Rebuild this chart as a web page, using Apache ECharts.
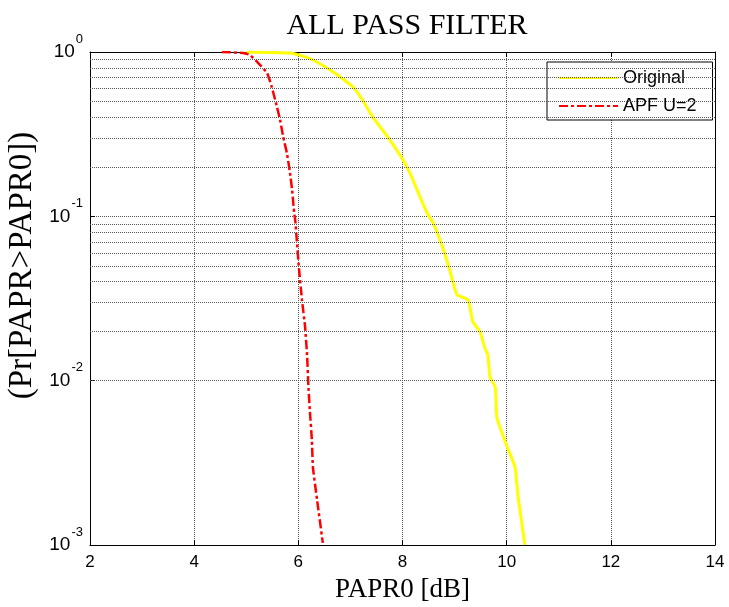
<!DOCTYPE html>
<html>
<head>
<meta charset="utf-8">
<script src="https://cdn.jsdelivr.net/npm/echarts@6/dist/echarts.min.js"></script>
<style>
  html, body { margin: 0; padding: 0; background: #fff; }
  #chart { width: 729px; height: 607px; }
</style>
</head>
<body>
<div id="chart"></div>
<script>
// PAPR0 [dB] and CCDF values
const originalX = [5.0, 5.84, 6.05, 6.28, 6.67, 7.05, 7.25, 7.43, 7.76, 8.01, 8.14, 8.28, 8.47, 8.59, 8.72, 8.85, 8.97, 9.05, 9.26, 9.35, 9.49, 9.58, 9.64, 9.68, 9.78, 9.81, 9.87, 10.01, 10.16, 10.22, 10.35]
const originalY = [1.0, 0.986, 0.95, 0.894, 0.756, 0.612, 0.50, 0.402, 0.291, 0.220, 0.184, 0.145, 0.105, 0.091, 0.0718, 0.0542, 0.0398, 0.0332, 0.031, 0.0228, 0.0198, 0.0158, 0.0143, 0.0105, 0.00915, 0.0060, 0.00522, 0.00395, 0.00298, 0.00196, 0.001]

const apfX = [4.53, 4.94, 5.07, 5.23, 5.40, 5.49, 5.59, 5.65, 5.71, 5.78, 5.84, 5.88, 5.92, 5.94, 5.97, 6.01, 6.07, 6.13, 6.17, 6.19, 6.22, 6.26, 6.28, 6.36, 6.47]
const apfY = [1.0, 0.986, 0.959, 0.857, 0.745, 0.612, 0.463, 0.386, 0.304, 0.243, 0.184, 0.145, 0.105, 0.095, 0.0718, 0.0492, 0.031, 0.0212, 0.0139, 0.0097, 0.00663, 0.00435, 0.00298, 0.00188, 0.00103]

// minor log grid lines (2..9 of each decade)
const minorGrid = [
  0.002, 0.003, 0.004, 0.005, 0.006, 0.007, 0.008, 0.009,
  0.02, 0.03, 0.04, 0.05, 0.06, 0.07, 0.08, 0.09,
  0.2, 0.3, 0.4, 0.5, 0.6, 0.7, 0.8, 0.9,
]

const chart = echarts.init(document.getElementById('chart'), null, { renderer: 'canvas' })

const gridLine = { type: 'dotted', color: '#555', width: 1 }
const axisLine = { lineStyle: { color: '#000', width: 1 } }
const tickStyle = { inside: true, length: 5, lineStyle: { color: '#000' } }

function pairs(xs, ys) {
  return xs.map((x, i) => [x, ys[i]])
}

chart.setOption({
  animation: false,
  backgroundColor: '#fff',
  title: {
    text: 'ALL PASS FILTER',
    left: 402,
    textAlign: 'center',
    top: 6,
    textStyle: { fontFamily: 'Liberation Serif', fontSize: 30, fontWeight: 'normal', color: '#000' },
  },
  legend: {
    orient: 'vertical',
    left: 547,
    top: 62,
    padding: [7, 16, 5, 11],
    itemWidth: 59,
    itemHeight: 18,
    itemGap: 10,
    borderColor: '#000',
    borderWidth: 1,
    backgroundColor: '#fff',
    borderRadius: 0,
    itemStyle: { opacity: 0 },
    textStyle: { fontFamily: 'Liberation Sans', fontSize: 18, color: '#000' },
    data: ['Original', 'APF U=2'],
  },
  grid: { left: 90, right: 14, top: 52, bottom: 62, outerBoundsMode: 'none' },
  xAxis: [
    {
      type: 'value',
      min: 2,
      max: 14,
      interval: 2,
      name: 'PAPR0 [dB]',
      nameLocation: 'middle',
      nameGap: 31,
      nameTextStyle: { fontFamily: 'Liberation Serif', fontSize: 27, color: '#000' },
      axisLine,
      axisTick: tickStyle,
      axisLabel: { fontFamily: 'Liberation Sans', fontSize: 17, color: '#000', margin: 9 },
      splitLine: { show: true, lineStyle: gridLine },
    },
    {
      type: 'value',
      position: 'top',
      min: 2,
      max: 14,
      interval: 2,
      axisLine,
      axisTick: tickStyle,
      axisLabel: { show: false },
      splitLine: { show: false },
    },
  ],
  yAxis: [
    {
      type: 'log',
      logBase: 10,
      min: 0.001,
      max: 1,
      name: '(Pr[PAPR>PAPR0])',
      nameLocation: 'middle',
      nameGap: 44,
      nameTextStyle: { fontFamily: 'Liberation Serif', fontSize: 33, color: '#000', padding: [0, 0, 0, 66] },
      axisLine: { show: true, lineStyle: { color: '#000', width: 1 } },
      axisTick: tickStyle,
      axisLabel: {
        margin: 7,
        formatter: (v) => '{b|10}{s|' + Math.round(Math.log10(v)) + '}',
        rich: {
          b: { fontFamily: 'Liberation Sans', fontSize: 19, color: '#000' },
          s: { fontFamily: 'Liberation Sans', fontSize: 13, color: '#000', padding: [0, 0, 26, 1] },
        },
      },
      splitLine: { show: true, lineStyle: gridLine },
    },
    {
      type: 'log',
      logBase: 10,
      min: 0.001,
      max: 1,
      position: 'right',
      axisLine: { show: true, lineStyle: { color: '#000', width: 1 } },
      axisTick: tickStyle,
      axisLabel: { show: false },
      splitLine: { show: false },
    },
  ],
  series: [
    {
      name: 'grid',
      type: 'line',
      data: [],
      silent: true,
      z: 1,
      markLine: {
        silent: true,
        symbol: ['none', 'none'],
        label: { show: false },
        lineStyle: gridLine,
        data: minorGrid.map((v) => ({ yAxis: v })),
      },
    },
    {
      name: 'Original',
      type: 'line',
      data: pairs(originalX, originalY),
      showSymbol: false,
      symbol: 'none',
      smooth: 0.15,
      z: 3,
      lineStyle: { color: '#ffff00', width: 3 },
      itemStyle: { color: '#ffff00' },
    },
    {
      name: 'APF U=2',
      type: 'line',
      data: pairs(apfX, apfY),
      showSymbol: false,
      symbol: 'none',
      smooth: 0.15,
      z: 4,
      lineStyle: { color: '#ff0000', width: 2.5, type: [9, 3, 3, 3] },
      itemStyle: { color: '#ff0000' },
    },
  ],
})
</script>
</body>
</html>
